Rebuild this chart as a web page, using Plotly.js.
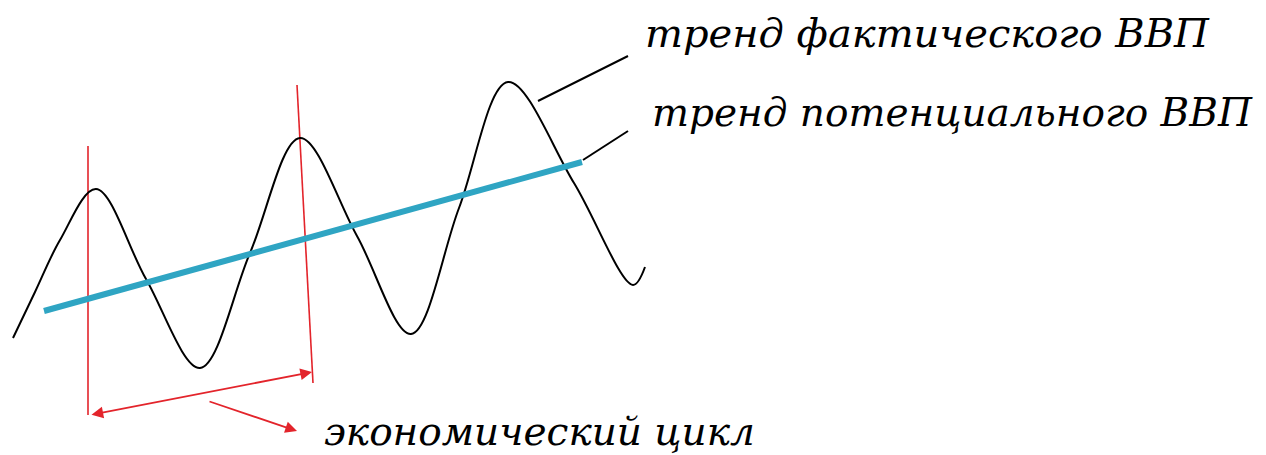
<!DOCTYPE html>
<html>
<head>
<meta charset="utf-8">
<script src="https://cdn.plot.ly/plotly-3.0.1.min.js"></script>
<style>
  html, body {margin: 0; padding: 0; background: #fff;}
  #plot {width: 1266px; height: 455px;}
</style>
</head>
<body>
<div id="plot"></div>
<script>
// all coordinates are in picture pixels (x to the right, y downwards)

const gdpX = [13, 35, 60, 96, 146, 200, 250, 300, 357, 411, 459, 508, 574, 633, 645];
const gdpY = [338, 292, 240, 189, 279, 368, 253, 138, 236, 334, 208, 82, 183, 285, 267];

////////// potential GDP trend //////////
const trendX = [44, 582];
const trendY = [311, 162];

////////// cycle markers (red) //////////
const markAX = [88, 88];
const markAY = [146, 415];
const markBX = [297, 313];
const markBY = [85, 383];

////////// leader lines to the labels //////////
const leadActX = [538, 628];
const leadActY = [101, 56];
const leadPotX = [583, 628];
const leadPotY = [160, 131];

////////// arrows [tailX, tailY, headX, headY] //////////
const cycleArrow = [90, 415, 312, 372];
const labelArrow = [208, 401, 297, 431];

////////// labels //////////
const labelActual = "тренд фактического ВВП";
const labelPotential = "тренд потенциального ВВП";
const labelCycle = "экономический цикл";

const red = '#e3242b';

let data = [
  {x: markAX, y: markAY, mode: 'lines', line: {color: red, width: 1.6}},
  {x: markBX, y: markBY, mode: 'lines', line: {color: red, width: 1.6}},
  {x: gdpX, y: gdpY, mode: 'lines', line: {color: '#000', width: 2, shape: 'spline', smoothing: 1}},
  {x: trendX, y: trendY, mode: 'lines', line: {color: '#2fa5c3', width: 6}},
  {x: leadActX, y: leadActY, mode: 'lines', line: {color: '#000', width: 2}},
  {x: leadPotX, y: leadPotY, mode: 'lines', line: {color: '#000', width: 2}}
];

// only DejaVu Serif gives a serif face here
function txtFont(sz) {
  return {family: 'DejaVu Serif', size: sz, color: '#000', style: 'italic'};
}

function arrow(a, sides) {
  return {
    x: a[2], y: a[3], ax: a[0], ay: a[1],
    xref: 'x', yref: 'y', axref: 'x', ayref: 'y',
    text: '', showarrow: true, arrowhead: 2, arrowsize: 1.3, arrowwidth: 1.8,
    arrowcolor: red, arrowside: sides, standoff: 0, startstandoff: 0
  };
}

let layout = {
  width: 1266,
  height: 455,
  margin: {l: 0, r: 0, t: 0, b: 0},
  paper_bgcolor: '#fff',
  plot_bgcolor: '#fff',
  showlegend: false,
  xaxis: {range: [0, 1266], visible: false, fixedrange: true},
  yaxis: {range: [455, 0], visible: false, fixedrange: true},
  annotations: [
    arrow(cycleArrow, 'end+start'),
    arrow(labelArrow, 'end'),
    {x: 643, y: 33, xref: 'x', yref: 'y', xanchor: 'left', yanchor: 'middle',
     text: labelActual, showarrow: false, font: txtFont(40)},
    {x: 650, y: 112, xref: 'x', yref: 'y', xanchor: 'left', yanchor: 'middle',
     text: labelPotential, showarrow: false, font: txtFont(39)},
    {x: 322, y: 431, xref: 'x', yref: 'y', xanchor: 'left', yanchor: 'middle',
     text: labelCycle, showarrow: false, font: txtFont(39)}
  ]
};

Plotly.newPlot('plot', data, layout, {staticPlot: true});
</script>
</body>
</html>
